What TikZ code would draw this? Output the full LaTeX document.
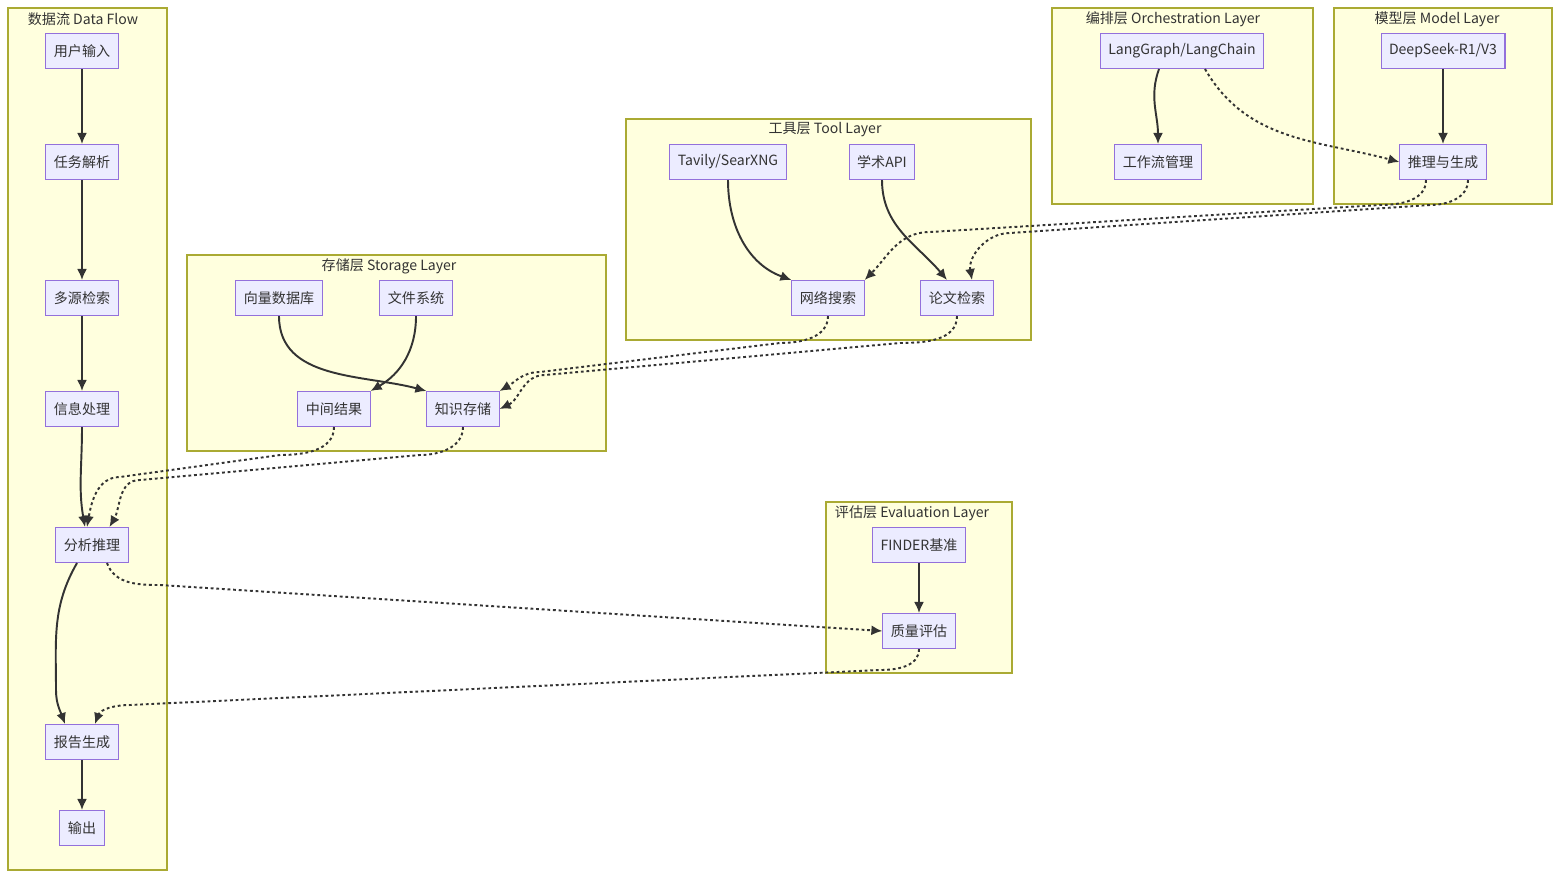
\documentclass[tikz,border=0pt]{standalone}
\usepackage{fontspec}
\setmainfont{Noto Sans CJK SC}
\usetikzlibrary{arrows.meta}
\definecolor{nodefill}{HTML}{ECECFF}
\definecolor{nodeline}{HTML}{9370DB}
\definecolor{grpfill}{HTML}{FFFFDE}
\definecolor{grpline}{HTML}{AAAA33}
\definecolor{edge}{HTML}{333333}
\tikzset{
  box/.style={draw=nodeline, fill=nodefill, line width=0.6pt, minimum height=0.7cm,
    inner xsep=0.16cm, font=\fontsize{8}{10}\selectfont, text=edge},
  grp/.style={draw=grpline, fill=grpfill, line width=0.6pt},
  grptitle/.style={font=\fontsize{8}{10}\selectfont, text=edge},
  flow/.style={draw=edge, line width=1.1pt, -{Latex[length=2.2mm,width=2mm]}},
  dflow/.style={flow, dash pattern=on 1.6pt off 1.6pt}
}
\begin{document}
\begin{tikzpicture}[x=0.02cm, y=-0.02cm]
  \useasboundingbox (0,0) rectangle (1561,879);

  % groups
  \draw[grp] (8,8) rectangle (167,870);
  \node[grptitle] at (83,19) {数据流 Data Flow};
  \draw[grp] (187,255) rectangle (606,451);
  \node[grptitle] at (389,266) {存储层 Storage Layer};
  \draw[grp] (626,119) rectangle (1031,340);
  \node[grptitle] at (825,130) {工具层 Tool Layer};
  \draw[grp] (1052,8) rectangle (1313,204);
  \node[grptitle] at (1173,19) {编排层 Orchestration Layer};
  \draw[grp] (1334,8) rectangle (1552,204);
  \node[grptitle] at (1437,19) {模型层 Model Layer};
  \draw[grp] (826,502) rectangle (1012,673);
  \node[grptitle] at (912,513) {评估层 Evaluation Layer};

  % data flow
  \node[box] (input) at (82,51) {用户输入};
  \node[box] (parse) at (82,162) {任务解析};
  \node[box] (search) at (82,298) {多源检索};
  \node[box] (proc) at (82,409) {信息处理};
  \node[box] (reason) at (92,545) {分析推理};
  \node[box] (report) at (82,742) {报告生成};
  \node[box] (output) at (82,828) {输出};

  % storage
  \node[box] (vecdb) at (279,298) {向量数据库};
  \node[box] (files) at (416,298) {文件系统};
  \node[box] (interim) at (334,409) {中间结果};
  \node[box] (know) at (463,409) {知识存储};

  % tools
  \node[box] (tavily) at (728,162) {Tavily/SearXNG};
  \node[box] (acad) at (882,162) {学术API};
  \node[box] (web) at (828,298) {网络搜索};
  \node[box] (paper) at (957,298) {论文检索};

  % orchestration and model
  \node[box] (lang) at (1182,51) {LangGraph/LangChain};
  \node[box] (wf) at (1158,162) {工作流管理};
  \node[box] (deep) at (1443,51) {DeepSeek-R1/V3};
  \node[box] (gen) at (1443,162) {推理与生成};

  % evaluation
  \node[box] (finder) at (919,545) {FINDER基准};
  \node[box] (qual) at (919,631) {质量评估};

  % solid edges
  \draw[flow] (input) -- (parse);
  \draw[flow] (parse) -- (search);
  \draw[flow] (search) -- (proc);
  \draw[flow] (proc.south) to[out=-90,in=100] ([xshift=-0.14cm]reason.north);
  \draw[flow] ([xshift=-0.3cm]reason.south) to[out=-120,in=90] (56,690) to[out=-90,in=110] ([xshift=-0.34cm]report.north);
  \draw[flow] (report) -- (output);
  \draw[flow] (vecdb.south) to[out=-90,in=165] (know.north west);
  \draw[flow] (files.south) to[out=-90,in=30] (interim.north east);
  \draw[flow] (tavily.south) to[out=-90,in=160] (web.north west);
  \draw[flow] (acad.south) to[out=-90,in=130] ([xshift=-0.2cm]paper.north);
  \draw[flow] ([xshift=-0.46cm]lang.south) to[out=-110,in=90] (wf.north);
  \draw[flow] (deep) -- (gen);
  \draw[flow] (finder) -- (qual);

  % dotted edges
  \draw[dflow] ([xshift=0.46cm]lang.south) to[out=-60,in=165] (gen.west);
  \draw[dflow] ([xshift=-0.34cm]gen.south) to[out=-90,in=0] (1380,205) -- (930,232) to[out=180,in=45] (web.north east);
  \draw[dflow] ([xshift=0.5cm]gen.south) to[out=-90,in=0] (1430,205) -- (1010,233) to[out=180,in=100] ([xshift=0.3cm]paper.north);
  \draw[dflow] (web.south) to[out=-90,in=0] (780,343) -- (540,372) to[out=180,in=30] (know.north east);
  \draw[dflow] (paper.south) to[out=-90,in=0] (900,343) -- (545,375) to[out=180,in=25] (know.east);
  \draw[dflow] (interim.south) to[out=-90,in=0] (280,455) -- (120,477) to[out=180,in=80] ([xshift=-0.1cm]reason.north);
  \draw[dflow] (know.south) to[out=-90,in=0] (420,455) -- (140,480) to[out=180,in=60] ([xshift=0.35cm]reason.north);
  \draw[dflow] ([xshift=0.3cm]reason.south) to[out=-70,in=180] (160,585) -- (qual.west);
  \draw[dflow] (qual.south) to[out=-90,in=0] (880,670) -- (130,705) to[out=180,in=70] ([xshift=0.26cm]report.north);
\end{tikzpicture}
\end{document}
